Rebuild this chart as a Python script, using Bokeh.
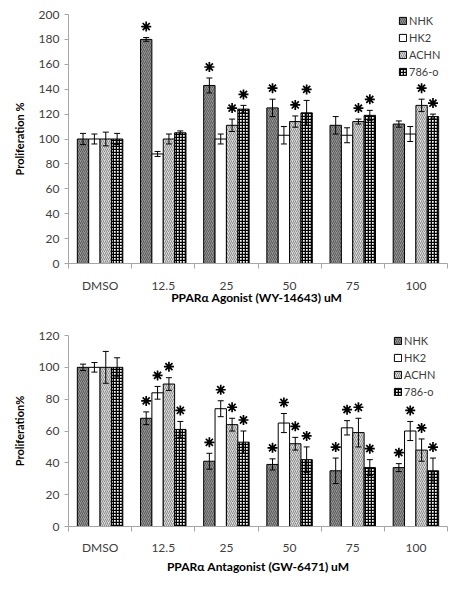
from bokeh.plotting import figure
from bokeh.models import (ColumnDataSource, Whisker, TeeHead, FixedTicker, Legend,
                          LegendItem, BoxAnnotation, Range1d)
from bokeh.layouts import column
from bokeh.embed import file_html
from bokeh.resources import INLINE

# ---------------- data ----------------
categories = ["DMSO", "12.5", "25", "50", "75", "100"]
series_names = ["NHK", "HK2", "ACHN", "786-o"]

# Agonist (WY-14643)
agon_nhk = [100, 180, 143, 125, 111, 112]
agon_nhk_err = [4.5, 1.5, 6, 7, 7, 2.5]
agon_hk2 = [100, 88, 100, 103, 103, 104]
agon_hk2_err = [4, 2, 4, 7, 6, 6]
agon_achn = [100, 100, 111, 114, 114, 127]
agon_achn_err = [5.5, 4, 5, 4.5, 2, 5]
agon_786 = [100, 105, 124, 121, 119, 118]
agon_786_err = [4.5, 1.5, 3, 10, 4, 2]
agon_nhk_star = [0, 1, 1, 1, 0, 0]
agon_hk2_star = [0, 0, 0, 0, 0, 0]
agon_achn_star = [0, 0, 1, 1, 1, 1]
agon_786_star = [0, 0, 1, 1, 1, 1]
agon_yticks = [0, 20, 40, 60, 80, 100, 120, 140, 160, 180, 200]

# Antagonist (GW-6471)
anta_nhk = [100, 68, 41, 39, 35, 37]
anta_nhk_err = [2, 4, 5, 3.5, 8, 2.5]
anta_hk2 = [100, 84, 74, 65, 62, 60]
anta_hk2_err = [3, 4, 5, 6, 4.5, 6]
anta_achn = [100, 89.5, 64, 52, 59, 48]
anta_achn_err = [10, 4, 4, 4, 9, 7]
anta_786 = [100, 61, 53, 42, 37, 35]
anta_786_err = [6, 5, 7, 8, 5, 8]
anta_nhk_star = [0, 1, 1, 1, 1, 1]
anta_hk2_star = [0, 1, 1, 1, 1, 1]
anta_achn_star = [0, 1, 1, 1, 1, 1]
anta_786_star = [0, 1, 1, 1, 1, 1]
anta_yticks = [0, 20, 40, 60, 80, 100, 120]

FONT = "Lato"
TXT = "#404040"
AX = "#a6a6a6"
BAR_W = 0.18
STAR_GAP_PX = 11

styles = [
    dict(fill_color="#939393", hatch_pattern="/", hatch_color="#5a5a5a", hatch_scale=4, hatch_weight=1),
    dict(fill_color="white"),
    dict(fill_color="#dadada", hatch_pattern="/", hatch_color="#8a8a8a", hatch_scale=4, hatch_weight=1),
    dict(fill_color="white", hatch_pattern="+", hatch_color="black", hatch_scale=3, hatch_weight=1.6),
]


def canvas_box(**kw):
    return BoxAnnotation(left_units="canvas", right_units="canvas",
                         top_units="canvas", bottom_units="canvas",
                         level="overlay", **kw)


def make_panel(W, H, bl, br, bt, bb, frame_h, ymax, yticks, vals, errs, stars,
               xtitle, ytitle, ytitle_standoff, leg_xy, leg_lh, leg_sp,
               xlab_standoff, xtitle_standoff, border):
    p = figure(width=W, height=H, output_backend="svg", toolbar_location=None,
               x_range=Range1d(0, len(categories)), y_range=Range1d(0, ymax),
               min_border_left=bl, min_border_right=br, min_border_top=bt,
               min_border_bottom=bb)
    p.xgrid.visible = False
    p.ygrid.visible = False
    p.outline_line_color = None

    star_gap = STAR_GAP_PX * ymax / frame_h
    items = []
    n = len(series_names)
    for k in range(n):
        off = (k - (n - 1) / 2) * BAR_W
        xs = [i + 0.5 + off for i in range(len(categories))]
        up = [v + e for v, e in zip(vals[k], errs[k])]
        lo = [v - e for v, e in zip(vals[k], errs[k])]
        src = ColumnDataSource(dict(x=xs, top=vals[k], upper=up, lower=lo))
        r = p.vbar(x="x", top="top", bottom=0, width=BAR_W, source=src,
                   line_color="black", line_width=1, **styles[k])
        items.append(LegendItem(label=series_names[k], renderers=[r]))
        w = Whisker(source=src, base="x", upper="upper", lower="lower",
                    line_color="black", line_width=1, level="annotation",
                    upper_head=TeeHead(size=6, line_color="black", line_width=1),
                    lower_head=TeeHead(size=6, line_color="black", line_width=1))
        p.add_layout(w)
        sx = [x for x, s in zip(xs, stars[k]) if s]
        sy = [u + star_gap for u, s in zip(up, stars[k]) if s]
        p.scatter(x=sx, y=sy, marker="asterisk", size=10, line_width=1.7,
                  line_color="black")

    # axes
    p.yaxis.ticker = FixedTicker(ticks=yticks)
    p.yaxis.axis_line_color = AX
    p.yaxis.major_tick_line_color = AX
    p.yaxis.major_tick_out = 4
    p.yaxis.major_tick_in = 0
    p.yaxis.minor_tick_line_color = None
    p.yaxis.major_label_text_font = FONT
    p.yaxis.major_label_text_font_size = "12px"
    p.yaxis.major_label_text_color = TXT
    p.yaxis.major_label_standoff = 5
    p.yaxis.axis_label = ytitle
    p.yaxis.axis_label_text_font = FONT
    p.yaxis.axis_label_text_font_style = "bold"
    p.yaxis.axis_label_text_font_size = "11px"
    p.yaxis.axis_label_text_color = "black"
    p.yaxis.axis_label_standoff = ytitle_standoff

    centers = [i + 0.5 for i in range(len(categories))]
    p.xaxis.ticker = FixedTicker(ticks=centers, minor_ticks=list(range(len(categories) + 1)))
    p.xaxis.major_label_overrides = {c: lab for c, lab in zip(centers, categories)}
    p.xaxis.axis_line_color = AX
    p.xaxis.major_tick_line_color = None
    p.xaxis.major_tick_out = 0
    p.xaxis.major_tick_in = 0
    p.xaxis.minor_tick_line_color = AX
    p.xaxis.minor_tick_out = 5
    p.xaxis.minor_tick_in = 0
    p.xaxis.major_label_text_font = FONT
    p.xaxis.major_label_text_font_size = "12px"
    p.xaxis.major_label_text_color = TXT
    p.xaxis.major_label_standoff = xlab_standoff
    p.xaxis.axis_label = xtitle
    p.xaxis.axis_label_text_font = FONT
    p.xaxis.axis_label_text_font_style = "bold"
    p.xaxis.axis_label_text_font_size = "12px"
    p.xaxis.axis_label_text_color = "black"
    p.xaxis.axis_label_standoff = xtitle_standoff

    leg = Legend(items=items, location=leg_xy, orientation="vertical",
                 border_line_color=None, background_fill_alpha=0,
                 padding=0, margin=0, glyph_width=9, glyph_height=9,
                 label_height=leg_lh, spacing=leg_sp, label_standoff=2,
                 label_text_font=FONT, label_text_font_size="11px",
                 label_text_color=TXT)
    p.add_layout(leg)

    # panel frame: light border with darker right/bottom edge
    L, T, R, B = border
    p.add_layout(canvas_box(left=L + 0.5, right=R, top=T + 0.5, bottom=B,
                            fill_alpha=0, line_color="#a0a0a0", line_width=1))
    p.add_layout(canvas_box(left=R - 2, right=R, top=T, bottom=B,
                            fill_color="#3a3a3a", fill_alpha=1, line_color=None))
    p.add_layout(canvas_box(left=L, right=R, top=B - 2, bottom=B,
                            fill_color="#3a3a3a", fill_alpha=1, line_color=None))
    return p


# top panel: frame x 60..447, y 14..263 (height 249)
top = make_panel(474, 310, 60, 27, 14, 47, 249, 200, agon_yticks,
                 [agon_nhk, agon_hk2, agon_achn, agon_786],
                 [agon_nhk_err, agon_hk2_err, agon_achn_err, agon_786_err],
                 [agon_nhk_star, agon_hk2_star, agon_achn_star, agon_786_star],
                 "PPARα Agonist (WY-14643)  uM", "Proliferation %", 10,
                 (330, 249 - 64), 13, 4, 9, -6, (6, 5, 468, 300))

# bottom panel: frame x 68..447, y 335..526 (height 191)
bot = make_panel(474, 290, 68, 27, 25, 74, 191, 120, anta_yticks,
                 [anta_nhk, anta_hk2, anta_achn, anta_786],
                 [anta_nhk_err, anta_hk2_err, anta_achn_err, anta_786_err],
                 [anta_nhk_star, anta_hk2_star, anta_achn_star, anta_786_star],
                 "PPARα Antagonist (GW-6471) uM", "Proliferation%", 10,
                 (325, 191 - 63), 12, 4, 8, 1, (7, 12, 467, 286))

layout = column(top, bot, spacing=0)
open("out.html", "w").write(file_html(layout, INLINE))
